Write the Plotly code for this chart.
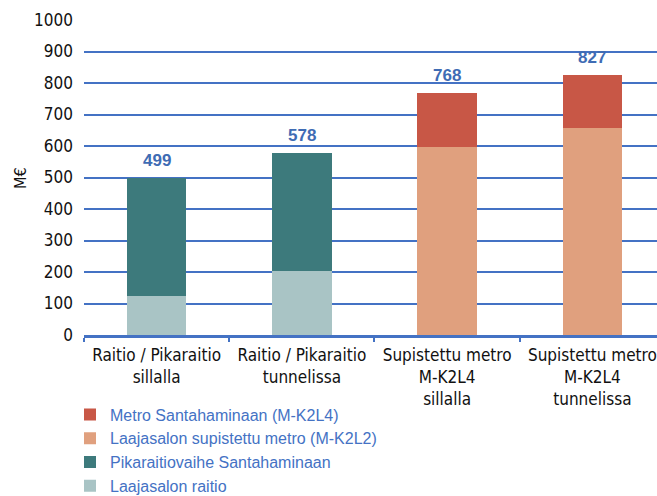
import plotly.graph_objects as go

# Investment cost alternatives (M€)
categories = [
    "Raitio / Pikaraitio<br>sillalla",
    "Raitio / Pikaraitio<br>tunnelissa",
    "Supistettu metro<br>M-K2L4<br>sillalla",
    "Supistettu metro<br>M-K2L4<br>tunnelissa",
]
totals = [499, 578, 768, 827]

laajasalon_raitio = [125, 204, 0, 0]
laajasalon_metro = [0, 0, 596, 656]
# upper segment of each stack: the rest of the stated total
upper_is_metro = [False, False, True, True]
pikaraitiovaihe = [t - b for t, b, m in zip(totals, laajasalon_raitio, upper_is_metro) if not m] + [0, 0]
metro_santahamina = [0, 0] + [t - b for t, b, m in zip(totals, laajasalon_metro, upper_is_metro) if m]

y_ticks = list(range(0, 1001, 100))

BLUE = "#4472C4"
NARROW = "Liberation Sans Narrow, Arial Narrow, DejaVu Sans Condensed, sans-serif"

W, H = 657, 496
ML, MT, MB = 84, 20, 161
PW, PH = W - ML, H - MT - MB

fig = go.Figure()
fig.add_bar(name="Laajasalon raitio", x=categories, y=laajasalon_raitio,
            marker_color="#A9C4C5")
fig.add_bar(name="Pikaraitiovaihe Santahaminaan", x=categories, y=pikaraitiovaihe,
            marker_color="#3D7A7C")
fig.add_bar(name="Laajasalon supistettu metro (M-K2L2)", x=categories, y=laajasalon_metro,
            marker_color="#E0A07E")
fig.add_bar(name="Metro Santahaminaan (M-K2L4)", x=categories, y=metro_santahamina,
            marker_color="#C85746")
fig.update_traces(marker_line_width=0)

# total labels above each stack
total_labels = [
    dict(x=c, y=t, text=str(t), showarrow=False, xref="x", yref="y",
         xanchor="center", yanchor="bottom", yshift=6,
         font=dict(family="Liberation Sans, Arial, sans-serif", size=17,
                   color="#3F6CB4", weight="bold"))
    for c, t in zip(categories, totals)
]

fig.update_layout(
    width=W, height=H,
    margin=dict(l=ML, r=0, t=MT, b=MB, autoexpand=False),
    barmode="stack", bargap=0.59,
    plot_bgcolor="white", paper_bgcolor="white",
    legend=dict(
        traceorder="reversed",
        x=(70 - ML) / PW, y=(H - MB - 397.5) / PH, xanchor="left", yanchor="top",
        font=dict(family="Liberation Sans, Arial, sans-serif", size=16, color=BLUE),
        bgcolor="rgba(0,0,0,0)",
    ),
    xaxis=dict(
        range=[-0.5, 3.445], tickangle=0,
        showline=True, linecolor=BLUE, linewidth=2.5,
        ticks="outside", tickson="boundaries", ticklen=4, tickcolor=BLUE, tickwidth=1.5,
        tickfont=dict(family=NARROW, size=17, color="#111111"),
        ticklabelstandoff=3,
        showgrid=False,
    ),
    yaxis=dict(
        range=[0, 1000], tickvals=y_ticks,
        showgrid=True, gridcolor=BLUE, gridwidth=1.5,
        zeroline=False,
        tickfont=dict(family=NARROW, size=17, color="#111111"),
        ticklabelstandoff=10,
    ),
    annotations=total_labels + [dict(
        text="M€", textangle=-90, showarrow=False,
        xref="paper", yref="paper",
        x=(20 - ML) / PW, y=(H - MB - 178) / PH,
        xanchor="center", yanchor="middle",
        font=dict(family=NARROW, size=16, color="#111111"),
    )],
)

fig.write_html("out.html")
